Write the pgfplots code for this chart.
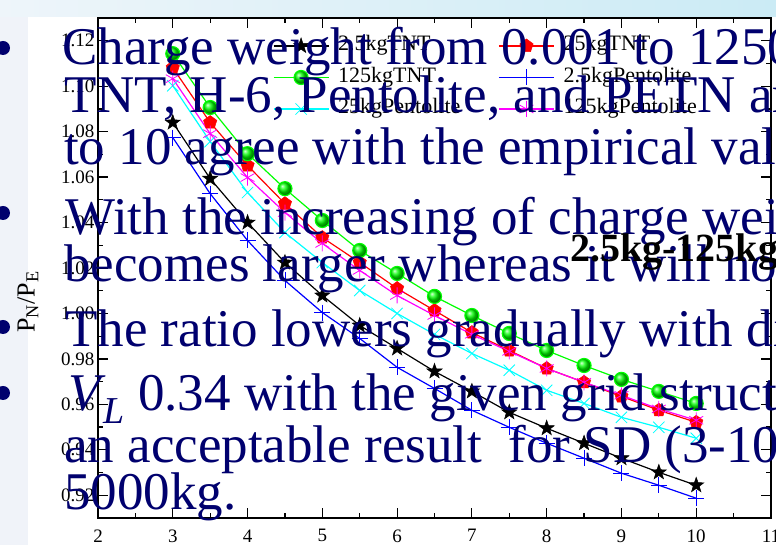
\documentclass[border=0pt]{standalone}
\usepackage{fontspec}
\setmainfont{Liberation Serif}
\usepackage{pgfplots}
\pgfplotsset{compat=1.18}
\definecolor{navy}{RGB}{0,0,110}
\definecolor{bgleft}{RGB}{240,243,249}
\definecolor{topleft}{RGB}{238,245,250}
\definecolor{topright}{RGB}{203,235,245}
\definecolor{cGreen}{RGB}{0,255,0}
\definecolor{cRed}{RGB}{255,0,0}
\definecolor{cBlue}{RGB}{0,0,255}
\definecolor{cCyan}{RGB}{0,255,255}
\definecolor{cMag}{RGB}{255,0,255}
\pgfdeclareplotmark{fstar}{%
  \pgfpathmoveto{\pgfpointpolar{90}{\pgfplotmarksize}}%
  \pgfpathlineto{\pgfpointpolar{126}{0.40\pgfplotmarksize}}%
  \pgfpathlineto{\pgfpointpolar{162}{\pgfplotmarksize}}%
  \pgfpathlineto{\pgfpointpolar{198}{0.40\pgfplotmarksize}}%
  \pgfpathlineto{\pgfpointpolar{234}{\pgfplotmarksize}}%
  \pgfpathlineto{\pgfpointpolar{270}{0.40\pgfplotmarksize}}%
  \pgfpathlineto{\pgfpointpolar{306}{\pgfplotmarksize}}%
  \pgfpathlineto{\pgfpointpolar{342}{0.40\pgfplotmarksize}}%
  \pgfpathlineto{\pgfpointpolar{18}{\pgfplotmarksize}}%
  \pgfpathlineto{\pgfpointpolar{54}{0.40\pgfplotmarksize}}%
  \pgfpathclose\pgfusepathqfillstroke}
\begin{document}
\begin{tikzpicture}[x=1pt,y=1pt]
\useasboundingbox (0,0) rectangle (776,545);
\clip (0,0) rectangle (776,545);
\fill[bgleft] (0,0) rectangle (776,545);
\shade[left color=topleft, right color=topright] (0,528) rectangle (776,545);
\fill[white] (28,0) rectangle (776,528);
\begin{axis}[
  at={(98pt,27pt)}, anchor=south west,
  scale only axis, width=673pt, height=500pt,
  xmin=2, xmax=11, ymin=0.91, ymax=1.13,
  xtick={2,3,4,5,6,7,8,9,10,11}, minor x tick num=1,
  ytick={0.92,0.94,0.96,0.98,1.00,1.02,1.04,1.06,1.08,1.10,1.12},
  minor y tick num=1,
  tick align=inside, major tick length=10pt, minor tick length=5pt,
  every tick/.style={black, line width=1.2pt},
  axis line style={line width=1.5pt},
  yticklabel style={/pgf/number format/fixed, /pgf/number format/fixed zerofill, /pgf/number format/precision=2},
  xticklabel style={yshift=-8pt},
  /pgf/number format/assume math mode=true,
  tick label style={font=\fontsize{19}{19}\selectfont},
  ylabel={P\textsubscript{N}/P\textsubscript{E}},
  ylabel style={font=\fontsize{26}{26}\selectfont, at={(axis description cs:-0.104,0.432)}, anchor=center},
  legend columns=2,
  legend cell align=left,
  legend style={draw=none, fill=none, inner sep=0pt, outer sep=0pt,
    at={(axis description cs:0.260,0.968)}, anchor=north west,
    font=\fontsize{22}{22}\selectfont,
    nodes={inner sep=2pt, text height=15pt, text depth=5pt},
    row sep=7.5pt,
    /tikz/every odd column/.append style={column sep=7pt},
    /tikz/every even column/.append style={column sep=36pt}},
  legend image code/.code={\draw[mark repeat=2, mark phase=2, #1] plot coordinates {(0pt,0pt) (27.5pt,0pt) (55pt,0pt)};},
  every axis plot/.append style={line width=1.2pt},
]
\addplot[black, mark=fstar, mark size=8pt, mark options={solid, line width=0.5pt}] coordinates {
(3,1.0840) (3.5,1.0593) (4,1.0400) (4.5,1.0224) (5,1.0079) (5.5,0.9947) (6,0.9846) (6.5,0.9745) (7,0.9657) (7.5,0.9565) (8,0.9495) (8.5,0.9429) (9,0.9363) (9.5,0.9301) (10,0.9244)};
\addlegendentry{2.5kgTNT}
\addplot[cRed, mark=pentagon*, mark size=7pt, mark options={solid, line width=0.5pt}] coordinates {
(3,1.1081) (3.5,1.0840) (4,1.0651) (4.5,1.0483) (5,1.0334) (5.5,1.0224) (6,1.0110) (6.5,1.0013) (7,0.9916) (7.5,0.9837) (8,0.9758) (8.5,0.9697) (9,0.9635) (9.5,0.9574) (10,0.9521)};
\addlegendentry{25kgTNT}
\addplot[cGreen, mark=ball, mark size=7pt, mark options={ball color=cGreen}] coordinates {
(3,1.1143) (3.5,1.0906) (4,1.0703) (4.5,1.0549) (5,1.0409) (5.5,1.0277) (6,1.0176) (6.5,1.0075) (7,0.9991) (7.5,0.9912) (8,0.9837) (8.5,0.9771) (9,0.9710) (9.5,0.9657) (10,0.9604)};
\addlegendentry{125kgTNT}
\addplot[cBlue, mark=+, mark size=8pt, mark options={solid, line width=0.8pt}] coordinates {
(3,1.0774) (3.5,1.0527) (4,1.0321) (4.5,1.0145) (5,1.0004) (5.5,0.9890) (6,0.9763) (6.5,0.9670) (7,0.9574) (7.5,0.9499) (8,0.9429) (8.5,0.9363) (9,0.9297) (9.5,0.9244) (10,0.9187)};
\addlegendentry{2.5kgPentolite}
\addplot[cCyan, mark=x, mark size=8pt, mark options={solid, line width=0.8pt}] coordinates {
(3,1.1002) (3.5,1.0756) (4,1.0532) (4.5,1.0356) (5,1.0224) (5.5,1.0101) (6,1.0000) (6.5,0.9908) (7,0.9824) (7.5,0.9750) (8,0.9662) (8.5,0.9604) (9,0.9543) (9.5,0.9499) (10,0.9451)};
\addlegendentry{25kgPentolite}
\addplot[cMag, mark=asterisk, mark size=8pt, mark options={solid, line width=0.8pt}] coordinates {
(3,1.1033) (3.5,1.0791) (4,1.0598) (4.5,1.0444) (5,1.0308) (5.5,1.0189) (6,1.0079) (6.5,0.9991) (7,0.9908) (7.5,0.9833) (8,0.9758) (8.5,0.9697) (9,0.9640) (9.5,0.9580) (10,0.9530)};
\addlegendentry{125kgPentolite}
\end{axis}
% slide text overlaid on the chart
\begin{scope}[every node/.style={anchor=base west, inner sep=0pt, text=navy, font=\fontsize{53}{53}\selectfont}]
\node at (62,480) {Charge weight from 0.001 to 1250kg for};
\node at (64,432) {TNT, H-6, Pentolite, and PETN are};
\node at (64,380) {to 10 agree with the empirical values.};
\node at (65,310) {With the increasing of charge weight};
\node at (64,263) {becomes larger whereas it will not};
\node at (65,198) {The ratio lowers gradually with distance};
\node at (68,134) {\textit{V}\kern-2pt\raisebox{-13pt}{\fontsize{38}{38}\selectfont\textit{L}} 0.34 with the given grid structure};
\node at (64,82) {an acceptable result\ \ for SD (3-10)};
\node at (64,35) {5000kg.};
\end{scope}
\node[anchor=base west, inner sep=0pt, font=\fontsize{40}{40}\selectfont\bfseries] at (570,283) {2.5kg-125kg};
\fill[navy] (3,497) circle (7);
\fill[navy] (3,332) circle (7);
\fill[navy] (3,218) circle (7);
\fill[navy] (3,152) circle (7);
\end{tikzpicture}
\end{document}
